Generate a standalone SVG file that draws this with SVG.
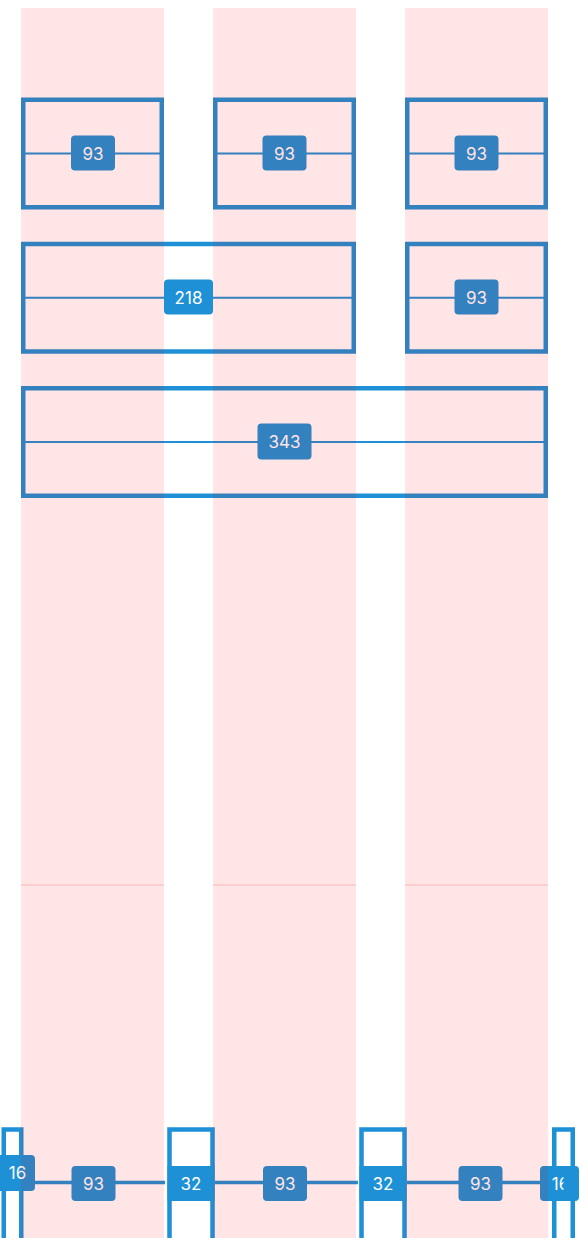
<svg xmlns="http://www.w3.org/2000/svg" width="588" height="1238" viewBox="0 0 588 1238">
<style>
.box{fill:none;stroke:#1e90d6;stroke-width:4.5}
.sbox{fill:#ffffff;stroke:#1e90d6;stroke-width:4.5}
.mline{stroke:#1e90d6;stroke-width:2;fill:none}
.bline{stroke:#1e90d6;stroke-width:3.5;fill:none}
.lab{fill:#1e90d6}
.txt{fill:#ffffff;font-family:Inter,"Liberation Sans",sans-serif;font-size:17px;text-anchor:middle}
.col{fill:rgba(255,0,0,0.1)}
</style>
<defs>
<clipPath id="clipR"><rect x="530" y="1150" width="33.5" height="60"/></clipPath>
</defs>
<rect width="588" height="1238" fill="#ffffff"/>

<g id="connectors">
<line class="mline" x1="21" y1="153.5" x2="164" y2="153.5"/>
<line class="mline" x1="213" y1="153.5" x2="356" y2="153.5"/>
<line class="mline" x1="405" y1="153.5" x2="548" y2="153.5"/>
<line class="mline" x1="21" y1="297.75" x2="356" y2="297.75"/>
<line class="mline" x1="405" y1="297.75" x2="548" y2="297.75"/>
<line class="mline" x1="21" y1="442" x2="548" y2="442"/>
<line class="bline" x1="24" y1="1182.5" x2="165" y2="1182.5"/>
<line class="bline" x1="215" y1="1182.5" x2="358" y2="1182.5"/>
<line class="bline" x1="407" y1="1182.5" x2="550" y2="1182.5"/>
</g>

<g id="box-r1c1"><rect class="box" x="23.25" y="99.75" width="138.5" height="107.5"/><rect class="lab" x="71" y="135.5" width="44" height="35" rx="4"/><text class="txt" x="93" y="159.5">93</text></g>
<g id="box-r1c2"><rect class="box" x="215.25" y="99.75" width="138.5" height="107.5"/><rect class="lab" x="262.5" y="135.5" width="44" height="35" rx="4"/><text class="txt" x="284.5" y="159.5">93</text></g>
<g id="box-r1c3"><rect class="box" x="407.25" y="99.75" width="138.5" height="107.5"/><rect class="lab" x="454.5" y="135.5" width="44" height="35" rx="4"/><text class="txt" x="476.5" y="159.5">93</text></g>

<g id="box-r2a"><rect class="box" x="23.25" y="244" width="330.5" height="107.5"/><rect class="lab" x="164" y="279.5" width="49" height="35" rx="4"/><text class="txt" x="188.5" y="303.5">218</text></g>
<g id="box-r2b"><rect class="box" x="407.25" y="244" width="138.5" height="107.5"/><rect class="lab" x="454.5" y="279.5" width="44" height="35" rx="4"/><text class="txt" x="476.5" y="303.5">93</text></g>

<g id="box-r3"><rect class="box" x="23.25" y="388.25" width="522.5" height="107.5"/><rect class="lab" x="257.5" y="423.5" width="54" height="36" rx="4"/><text class="txt" x="284.5" y="447.5">343</text></g>

<g id="bottom-left"><rect class="sbox" x="3.75" y="1129.5" width="17.5" height="130"/><rect class="lab" x="-4" y="1155" width="39" height="36" rx="4"/><text class="txt" x="17.5" y="1179">16</text></g>
<g id="bottom-93a"><rect class="lab" x="71.5" y="1166" width="44" height="35" rx="4"/><text class="txt" x="93.5" y="1189.5">93</text></g>
<g id="bottom-32a"><rect class="sbox" x="169.5" y="1129.5" width="43" height="130"/><rect class="lab" x="167.5" y="1166" width="47" height="35"/><text class="txt" x="191" y="1189.5">32</text></g>
<g id="bottom-93b"><rect class="lab" x="263" y="1166" width="44" height="35" rx="4"/><text class="txt" x="285" y="1189.5">93</text></g>
<g id="bottom-32b"><rect class="sbox" x="361.5" y="1129.5" width="43" height="130"/><rect class="lab" x="359.5" y="1166" width="47" height="35"/><text class="txt" x="383" y="1189.5">32</text></g>
<g id="bottom-93c"><rect class="lab" x="458.5" y="1166" width="44" height="35" rx="4"/><text class="txt" x="480.5" y="1189.5">93</text></g>
<g id="bottom-right"><rect class="sbox" x="554.25" y="1129.5" width="18.5" height="130"/><rect class="lab" x="540" y="1166" width="39" height="35" rx="4"/><text class="txt" x="560.5" y="1189.5" clip-path="url(#clipR)">16</text></g>

<g id="columns">
<rect class="col" x="21" y="8" width="143" height="1230"/>
<rect class="col" x="213" y="8" width="143" height="1230"/>
<rect class="col" x="405" y="8" width="143" height="1230"/>
<rect class="col" x="21" y="884" width="143" height="2"/>
<rect class="col" x="213" y="884" width="143" height="2"/>
<rect class="col" x="405" y="884" width="143" height="2"/>
</g>
</svg>
